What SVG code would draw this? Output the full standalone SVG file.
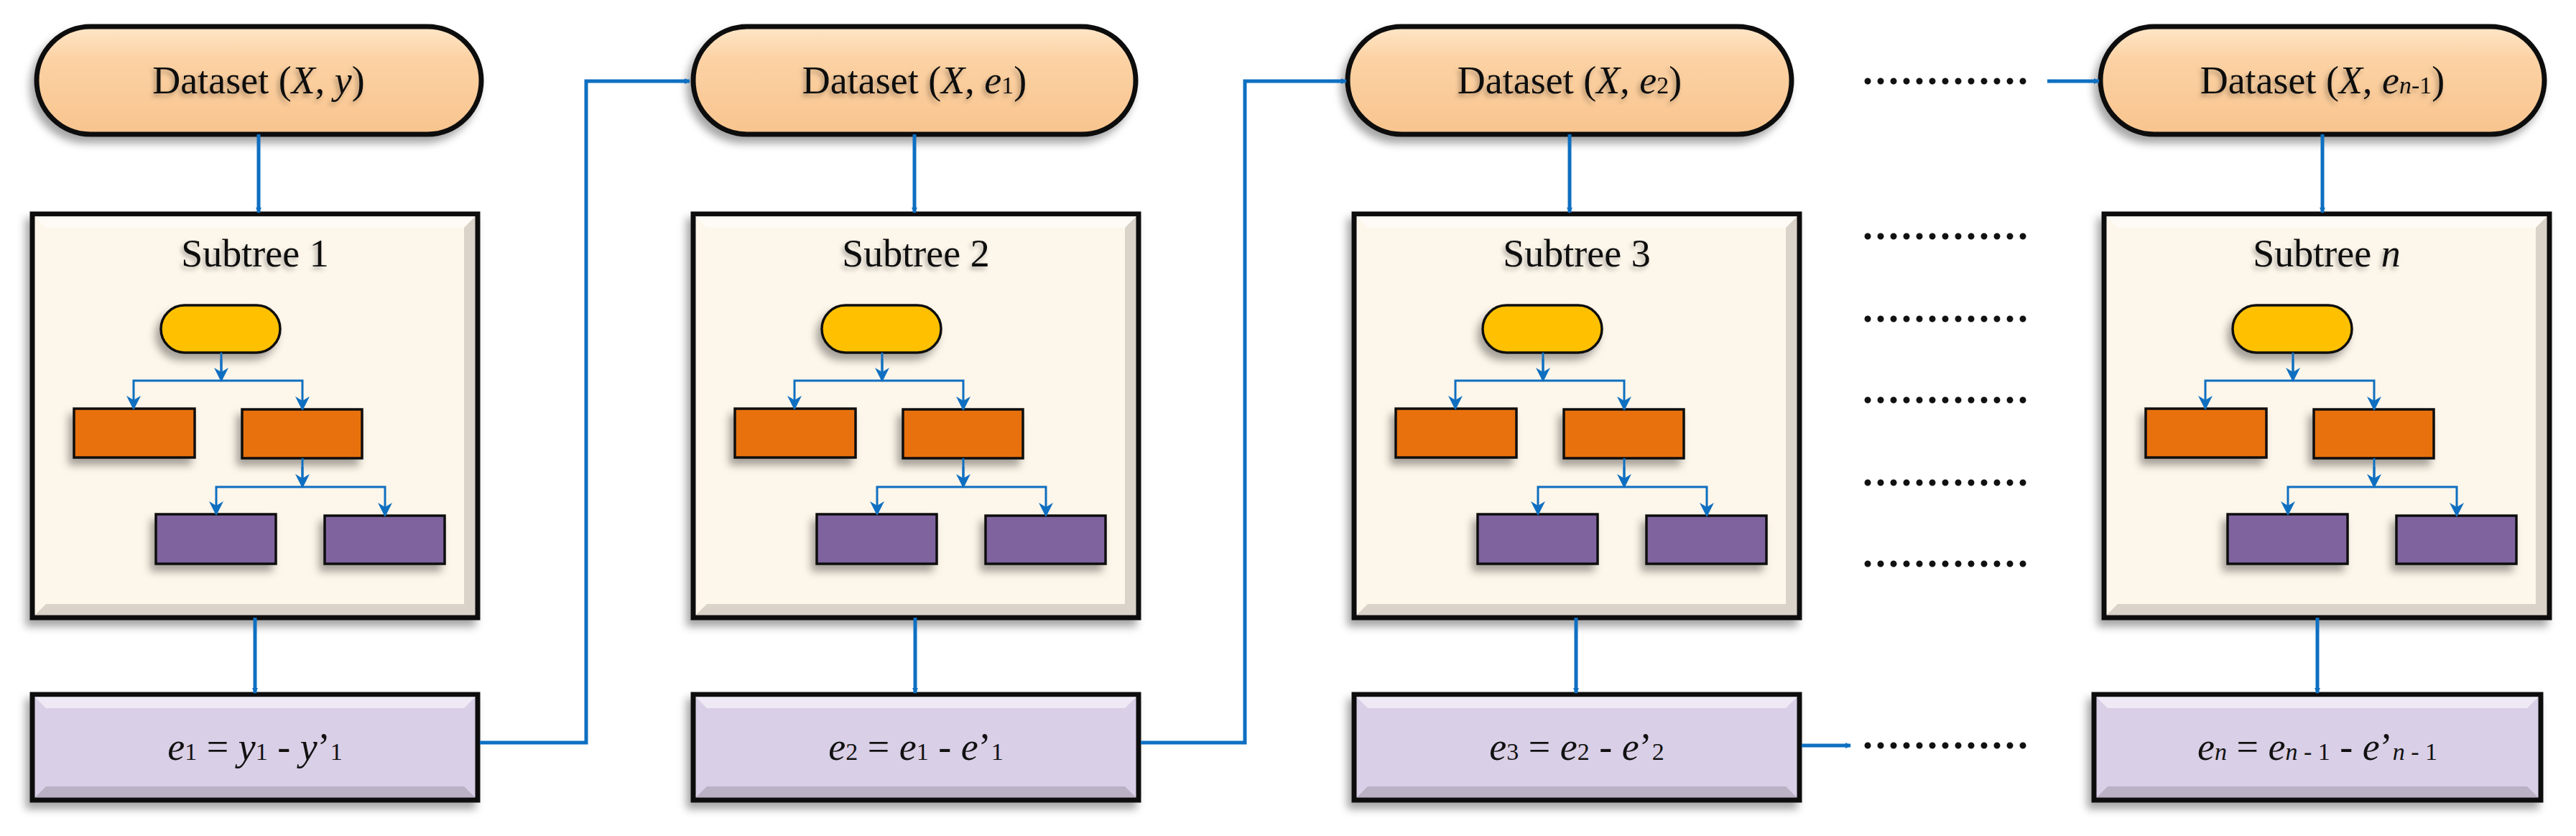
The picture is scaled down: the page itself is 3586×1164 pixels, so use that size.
<svg xmlns="http://www.w3.org/2000/svg" xmlns:xlink="http://www.w3.org/1999/xlink" width="3586" height="1164" viewBox="0 0 3586 1164">
<defs>
<style>
.t{font-family:"Liberation Serif","DejaVu Serif",serif;font-size:54px;fill:#111;text-anchor:middle}
.i{font-style:italic}
.pill{fill:url(#pg);stroke:#111;stroke-width:7}
.box{fill:#FDF6EA;stroke:#111;stroke-width:7}
.res{fill:#D9CFE6;stroke:#111;stroke-width:7}
.hl{fill:#fff;opacity:.55}
.dk{fill:#000;opacity:.14}
.yel{fill:#FFC000;stroke:#111;stroke-width:3.5}
.org{fill:#E8710E;stroke:#111;stroke-width:3.5}
.pur{fill:#7F649E;stroke:#111;stroke-width:3.5}
.c{fill:none;stroke:#0E6FC1;stroke-width:5;marker-end:url(#a)}
.s{fill:none;stroke:#0E6FC1;stroke-width:3}
.sa{fill:none;stroke:#0E6FC1;stroke-width:3;marker-end:url(#sa)}
.dots{stroke:#111;stroke-width:9;stroke-linecap:round;stroke-dasharray:0 18}
</style>
<linearGradient id="pg" x1="0" y1="0" x2="0" y2="1">
<stop offset="0" stop-color="#FEE6C8"/><stop offset="0.3" stop-color="#FCD2A4"/><stop offset="1" stop-color="#F8C48E"/>
</linearGradient>
<filter id="sh" x="-10%" y="-10%" width="120%" height="130%"><feDropShadow dx="-6" dy="9" stdDeviation="6" flood-color="#000" flood-opacity="0.35"/></filter>
<filter id="ts" x="-10%" y="-30%" width="120%" height="160%"><feDropShadow dx="-3" dy="4" stdDeviation="3" flood-color="#000" flood-opacity="0.3"/></filter>
<marker id="a" markerWidth="8" markerHeight="8" refX="7" refY="4" orient="auto" markerUnits="userSpaceOnUse" viewBox="0 0 8 8"><path d="M0,0 L8,4 L0,8 z" fill="#0E6FC1"/></marker>
<marker id="sa" viewBox="0 0 10 10" refX="9" refY="5" markerWidth="20" markerHeight="20" orient="auto" markerUnits="userSpaceOnUse"><path d="M0,0 L10,5 L0,10 L3,5 z" fill="#0E6FC1"/></marker>
</defs>
<rect width="3586" height="1164" fill="#fff"/>

<g id="col1">
<g id="dataset1" filter="url(#sh)"><rect class="pill" x="51" y="37" width="619" height="150" rx="75"/></g>
<text class="t" x="360" y="130" filter="url(#ts)">Dataset (<tspan class="i">X</tspan>, <tspan class="i">y</tspan>)</text>
<g id="subtree1">
<rect class="box" x="45" y="298" width="620" height="562" filter="url(#sh)"/>
<polygon class="hl" points="48,301 662,301 646,317 64,317"/><polygon class="dk" points="48,857 662,857 646,841 64,841"/>
<polygon class="dk" points="662,301 662,857 646,841 646,317" opacity=".08"/>
<text class="t" x="355" y="371" filter="url(#ts)">Subtree 1</text>
<g filter="url(#sh)">
<rect class="yel" x="224" y="425" width="166" height="66" rx="33"/>
<rect class="org" x="103" y="569" width="168" height="68"/><rect class="org" x="337" y="570" width="167" height="68"/>
<rect class="pur" x="217" y="716" width="167" height="69"/><rect class="pur" x="452" y="718" width="167" height="67"/>
</g>
<path class="s" d="M308,491V530"/><path class="sa" d="M308,530H186V569"/><path class="sa" d="M308,530H421V570"/>
<path class="s" d="M421,638V678"/><path class="sa" d="M421,678H301V716"/><path class="sa" d="M421,678H536V718"/>
<path class="sa" d="M308,500V530"/><path class="sa" d="M421,650V678"/>
</g>
<g id="result1"><rect class="res" x="45" y="967" width="620" height="147" filter="url(#sh)"/>
<polygon class="hl" points="48,970 662,970 646,986 64,986"/><polygon class="dk" points="48,1111 662,1111 646,1095 64,1095"/>
<text class="t" x="355" y="1058"><tspan class="i">e</tspan><tspan font-size="34">1</tspan> = <tspan class="i">y</tspan><tspan font-size="34">1</tspan> - <tspan class="i">y</tspan>’<tspan font-size="34">1</tspan></text></g>
</g>

<g id="col2">
<g id="dataset2" filter="url(#sh)"><rect class="pill" x="965" y="37" width="616" height="150" rx="75"/></g>
<text class="t" x="1273" y="130" filter="url(#ts)">Dataset (<tspan class="i">X</tspan>, <tspan class="i">e</tspan><tspan font-size="34">1</tspan>)</text>
<g id="subtree2" transform="translate(920,0)">
<rect class="box" x="45" y="298" width="620" height="562" filter="url(#sh)"/>
<polygon class="hl" points="48,301 662,301 646,317 64,317"/><polygon class="dk" points="48,857 662,857 646,841 64,841"/>
<polygon class="dk" points="662,301 662,857 646,841 646,317" opacity=".08"/>
<text class="t" x="355" y="371" filter="url(#ts)">Subtree 2</text>
<g filter="url(#sh)">
<rect class="yel" x="224" y="425" width="166" height="66" rx="33"/>
<rect class="org" x="103" y="569" width="168" height="68"/><rect class="org" x="337" y="570" width="167" height="68"/>
<rect class="pur" x="217" y="716" width="167" height="69"/><rect class="pur" x="452" y="718" width="167" height="67"/>
</g>
<path class="s" d="M308,491V530"/><path class="sa" d="M308,530H186V569"/><path class="sa" d="M308,530H421V570"/>
<path class="s" d="M421,638V678"/><path class="sa" d="M421,678H301V716"/><path class="sa" d="M421,678H536V718"/>
<path class="sa" d="M308,500V530"/><path class="sa" d="M421,650V678"/>
</g>
<g id="result2" transform="translate(920,0)"><rect class="res" x="45" y="967" width="620" height="147" filter="url(#sh)"/>
<polygon class="hl" points="48,970 662,970 646,986 64,986"/><polygon class="dk" points="48,1111 662,1111 646,1095 64,1095"/>
<text class="t" x="355" y="1058"><tspan class="i">e</tspan><tspan font-size="34">2</tspan> = <tspan class="i">e</tspan><tspan font-size="34">1</tspan> - <tspan class="i">e</tspan>’<tspan font-size="34">1</tspan></text></g>
</g>

<g id="col3">
<g id="dataset3" filter="url(#sh)"><rect class="pill" x="1876" y="37" width="618" height="150" rx="75"/></g>
<text class="t" x="2185" y="130" filter="url(#ts)">Dataset (<tspan class="i">X</tspan>, <tspan class="i">e</tspan><tspan font-size="34">2</tspan>)</text>
<g id="subtree3" transform="translate(1840,0)">
<rect class="box" x="45" y="298" width="620" height="562" filter="url(#sh)"/>
<polygon class="hl" points="48,301 662,301 646,317 64,317"/><polygon class="dk" points="48,857 662,857 646,841 64,841"/>
<polygon class="dk" points="662,301 662,857 646,841 646,317" opacity=".08"/>
<text class="t" x="355" y="371" filter="url(#ts)">Subtree 3</text>
<g filter="url(#sh)">
<rect class="yel" x="224" y="425" width="166" height="66" rx="33"/>
<rect class="org" x="103" y="569" width="168" height="68"/><rect class="org" x="337" y="570" width="167" height="68"/>
<rect class="pur" x="217" y="716" width="167" height="69"/><rect class="pur" x="452" y="718" width="167" height="67"/>
</g>
<path class="s" d="M308,491V530"/><path class="sa" d="M308,530H186V569"/><path class="sa" d="M308,530H421V570"/>
<path class="s" d="M421,638V678"/><path class="sa" d="M421,678H301V716"/><path class="sa" d="M421,678H536V718"/>
<path class="sa" d="M308,500V530"/><path class="sa" d="M421,650V678"/>
</g>
<g id="result3" transform="translate(1840,0)"><rect class="res" x="45" y="967" width="620" height="147" filter="url(#sh)"/>
<polygon class="hl" points="48,970 662,970 646,986 64,986"/><polygon class="dk" points="48,1111 662,1111 646,1095 64,1095"/>
<text class="t" x="355" y="1058"><tspan class="i">e</tspan><tspan font-size="34">3</tspan> = <tspan class="i">e</tspan><tspan font-size="34">2</tspan> - <tspan class="i">e</tspan>’<tspan font-size="34">2</tspan></text></g>
</g>

<g id="coln">
<g id="datasetn" filter="url(#sh)"><rect class="pill" x="2924" y="37" width="618" height="150" rx="75"/></g>
<text class="t" x="3233" y="130" filter="url(#ts)">Dataset (<tspan class="i">X</tspan>, <tspan class="i">e</tspan><tspan font-size="34"><tspan class="i">n</tspan>-1</tspan>)</text>
<g id="subtreen" transform="translate(2884,0)">
<rect class="box" x="45" y="298" width="620" height="562" filter="url(#sh)"/>
<polygon class="hl" points="48,301 662,301 646,317 64,317"/><polygon class="dk" points="48,857 662,857 646,841 64,841"/>
<polygon class="dk" points="662,301 662,857 646,841 646,317" opacity=".08"/>
<text class="t" x="355" y="371" filter="url(#ts)">Subtree <tspan class="i">n</tspan></text>
<g filter="url(#sh)">
<rect class="yel" x="224" y="425" width="166" height="66" rx="33"/>
<rect class="org" x="103" y="569" width="168" height="68"/><rect class="org" x="337" y="570" width="167" height="68"/>
<rect class="pur" x="217" y="716" width="167" height="69"/><rect class="pur" x="452" y="718" width="167" height="67"/>
</g>
<path class="s" d="M308,491V530"/><path class="sa" d="M308,530H186V569"/><path class="sa" d="M308,530H421V570"/>
<path class="s" d="M421,638V678"/><path class="sa" d="M421,678H301V716"/><path class="sa" d="M421,678H536V718"/>
<path class="sa" d="M308,500V530"/><path class="sa" d="M421,650V678"/>
</g>
<g id="resultn" transform="translate(2870,0)"><rect class="res" x="45" y="967" width="622" height="147" filter="url(#sh)"/>
<polygon class="hl" points="48,970 664,970 648,986 64,986"/><polygon class="dk" points="48,1111 664,1111 648,1095 64,1095"/>
<text class="t" x="356" y="1058"><tspan class="i">e</tspan><tspan font-size="34" class="i">n</tspan> = <tspan class="i">e</tspan><tspan font-size="34"><tspan class="i">n</tspan> - 1</tspan> - <tspan class="i">e</tspan>’<tspan font-size="34"><tspan class="i">n</tspan> - 1</tspan></text></g>
</g>

<g id="dots">
<line class="dots" x1="2600" y1="113" x2="2817" y2="113"/>
<line class="dots" x1="2600" y1="329" x2="2817" y2="329"/>
<line class="dots" x1="2600" y1="444" x2="2817" y2="444"/>
<line class="dots" x1="2600" y1="557" x2="2817" y2="557"/>
<line class="dots" x1="2600" y1="672" x2="2817" y2="672"/>
<line class="dots" x1="2600" y1="785" x2="2817" y2="785"/>
<line class="dots" x1="2600" y1="1038" x2="2817" y2="1038"/>
</g>

<g id="connectors">
<path class="c" d="M360,187V296" style="marker-end:url(#a)"/>
<path class="c" d="M355,860V965"/>
<path class="c" d="M1273,187V296"/>
<path class="c" d="M1274,860V965"/>
<path class="c" d="M2185,187V296"/>
<path class="c" d="M2194,860V965"/>
<path class="c" d="M3233,187V296"/>
<path class="c" d="M3226,860V965"/>
<path class="c" d="M668,1034H816V113H960"/>
<path class="c" d="M1588,1034H1733V113H1874"/>
<path class="c" d="M2508,1038H2576"/>
<path class="c" d="M2850,113H2922"/>
</g>
</svg>
